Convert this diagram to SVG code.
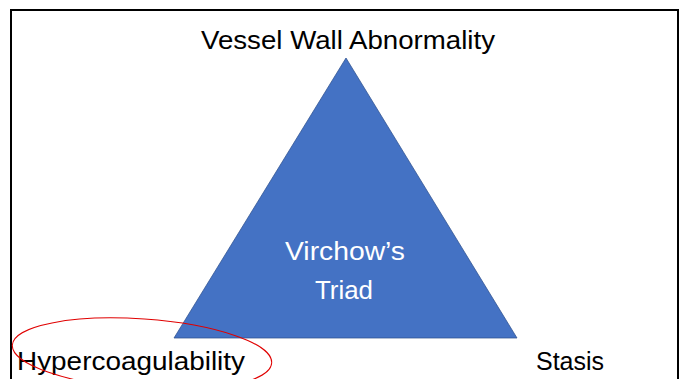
<svg xmlns="http://www.w3.org/2000/svg" width="685" height="379" viewBox="0 0 685 379">
<style>
.lbl{font-family:"Liberation Sans",Arial,sans-serif;font-size:26.5px;fill:#000}
.in{font-family:"Liberation Sans",Arial,sans-serif;font-size:26.5px;fill:#fff}
</style>
<rect x="0" y="0" width="685" height="379" fill="#fff"/>
<rect id="frame" x="11" y="10" width="667" height="380" fill="none" stroke="#000" stroke-width="2"/>
<g id="triangle">
<polygon points="346,58 174,338 517,338" fill="#4472C4" stroke="#2F528F" stroke-width="0.75"/>
<text class="in" x="345" y="260" text-anchor="middle" textLength="120" lengthAdjust="spacingAndGlyphs">Virchow’s</text>
<text class="in" x="344" y="299" text-anchor="middle" textLength="58" lengthAdjust="spacingAndGlyphs">Triad</text>
</g>
<g id="vessel"><text class="lbl" x="201" y="49" textLength="294" lengthAdjust="spacingAndGlyphs">Vessel Wall Abnormality</text></g>
<g id="hyper"><text class="lbl" x="17" y="369.5" textLength="228" lengthAdjust="spacingAndGlyphs">Hypercoagulability</text></g>
<g id="stasis"><text class="lbl" x="536" y="369.5" textLength="68" lengthAdjust="spacingAndGlyphs">Stasis</text></g>
<g id="connectors"></g>
<ellipse id="highlight" cx="142" cy="354" rx="130" ry="35" transform="rotate(4 142 354)" fill="none" stroke="#E00000" stroke-width="1"/>
</svg>
